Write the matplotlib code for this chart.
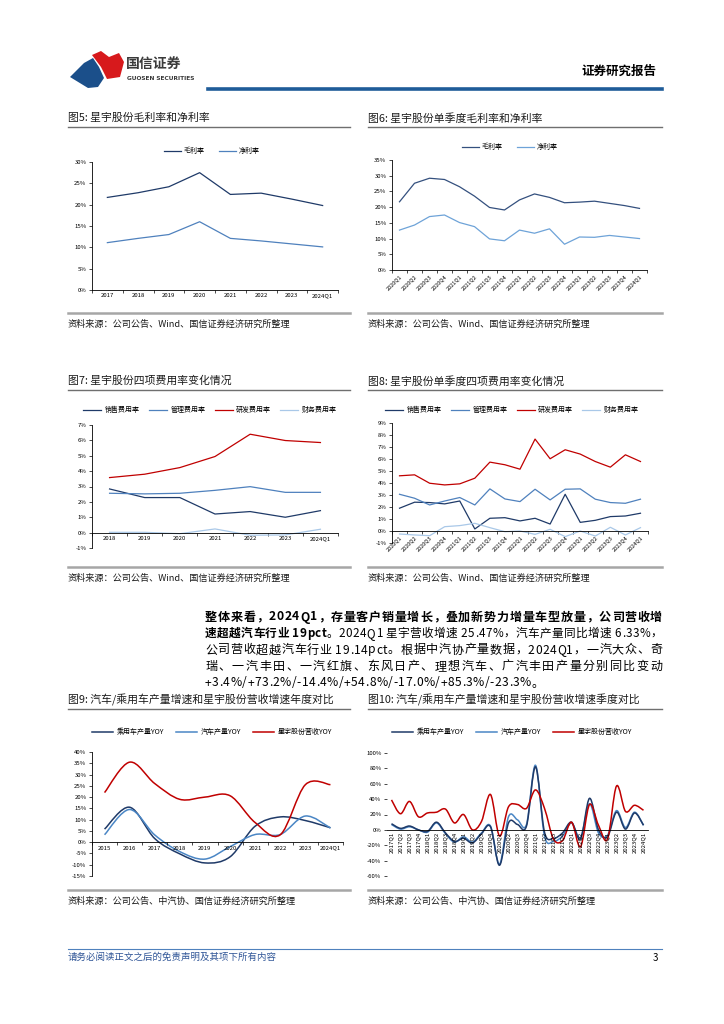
import numpy as np
import matplotlib
matplotlib.use('Agg')
import matplotlib.pyplot as plt
from matplotlib.lines import Line2D
from matplotlib.patches import Polygon, PathPatch
from matplotlib.path import Path
from matplotlib.ticker import FuncFormatter
from matplotlib.font_manager import FontProperties

plt.rcParams['font.family'] = ['Noto Sans CJK SC', 'DejaVu Sans']
plt.rcParams['axes.unicode_minus'] = False

# ---------------- data ----------------
years5 = ['2017', '2018', '2019', '2020', '2021', '2022', '2023', '2024Q1']
gross5 = [21.7, 22.8, 24.2, 27.5, 22.4, 22.7, 21.3, 19.8]
net5 = [11.1, 12.1, 13.0, 16.0, 12.1, 11.5, 10.8, 10.1]

quarters6 = ['2020Q1', '2020Q2', '2020Q3', '2020Q4', '2021Q1', '2021Q2', '2021Q3', '2021Q4',
             '2022Q1', '2022Q2', '2022Q3', '2022Q4', '2023Q1', '2023Q2', '2023Q3', '2023Q4', '2024Q1']
gross6 = [21.7, 27.6, 29.2, 28.8, 26.5, 23.5, 19.9, 19.1, 22.3, 24.2, 23.1, 21.4, 21.6, 21.9, 21.2, 20.5, 19.6]
net6 = [12.7, 14.3, 17.0, 17.5, 15.1, 13.8, 9.9, 9.3, 12.7, 11.7, 13.1, 8.2, 10.5, 10.4, 11.0, 10.5, 10.0]

years7 = ['2018', '2019', '2020', '2021', '2022', '2023', '2024Q1']
sales7 = [2.84, 2.28, 2.28, 1.21, 1.37, 1.00, 1.43]
admin7 = [2.56, 2.52, 2.56, 2.75, 2.99, 2.62, 2.62]
rnd7 = [3.58, 3.80, 4.23, 4.95, 6.40, 5.99, 5.86]
fin7 = [0.02, 0.02, -0.07, 0.24, -0.17, -0.15, 0.22]

sales8 = [1.90, 2.40, 2.37, 2.26, 2.50, 0.17, 1.06, 1.11, 0.84, 1.06, 0.58, 3.06, 0.72, 0.89, 1.20, 1.25, 1.48]
admin8 = [3.06, 2.73, 2.17, 2.50, 2.79, 2.17, 3.51, 2.67, 2.45, 3.48, 2.59, 3.48, 3.51, 2.65, 2.37, 2.31, 2.65]
rnd8 = [4.60, 4.68, 3.98, 3.84, 3.93, 4.40, 5.74, 5.52, 5.15, 7.66, 6.02, 6.77, 6.41, 5.79, 5.32, 6.35, 5.79]
fin8 = [-0.25, -0.33, -0.39, 0.36, 0.45, 0.64, 0.28, -0.06, 0.0, -0.28, 0.14, -0.47, 0.0, -0.42, 0.31, -0.33, 0.28]

years9 = ['2015', '2016', '2017', '2018', '2019', '2020', '2021', '2022', '2023', '2024Q1']
pv9 = [5.8, 15.5, 1.6, -5.2, -9.2, -6.5, 7.1, 11.2, 9.6, 6.4]
auto9 = [3.3, 14.5, 3.2, -4.2, -7.5, -2.0, 3.4, 3.4, 11.6, 6.3]
xy9 = [22.0, 35.5, 26.0, 19.0, 20.0, 20.6, 8.7, 3.3, 25.5, 25.5]

quarters10 = ['2017Q1', '2017Q2', '2017Q3', '2017Q4', '2018Q1', '2018Q2', '2018Q3', '2018Q4',
              '2019Q1', '2019Q2', '2019Q3', '2019Q4', '2020Q1', '2020Q2', '2020Q3', '2020Q4',
              '2021Q1', '2021Q2', '2021Q3', '2021Q4', '2022Q1', '2022Q2', '2022Q3', '2022Q4',
              '2023Q1', '2023Q2', '2023Q3', '2023Q4', '2024Q1']
pv10 = [8, 2, 5, 0, -2, 10, -4, -15, -11, -17, -5, 4, -46, 9, 7, 5, 82, -3, -11, -4, 10, -12, 41, 0, -9, 23, 1, 22, 6]
auto10 = [7, 1, 4, 0, -3, 9, -5, -16, -9, -16, -4, 5, -45, 17, 13, 7, 84, -8, -15, -8, 9, -10, 34, -4, -7, 25, 3, 23, 6]
xy10 = [39, 21, 37, 17, 22, 23, 27, 9, 20, 0, 11, 46, -8, 30, 33, 28, 52, 28, -12, -14, 10, -22, 33, 6, -12, 57, 24, 32, 25.5]

# ---------------- layout helpers ----------------
W, H = 724, 1024
fig = plt.figure(figsize=(W / 100, H / 100), dpi=100)
fig.patch.set_facecolor('white')

NAVY = '#1f3a68'
MID = '#4f81bd'
LIGHT = '#a9c8e8'
RED = '#c00000'


def px_axes(l, t, r, b):
    return fig.add_axes([l / W, 1 - b / H, (r - l) / W, (b - t) / H])


def ftext(x, y, s, **kw):
    return fig.text(x / W, 1 - y / H, s, **kw)


def hline(x0, x1, y, color, lw):
    fig.add_artist(Line2D([x0 / W, x1 / W], [1 - y / H, 1 - y / H],
                          transform=fig.transFigure, color=color, lw=lw))


def pct(v, p):
    return f'{v:.0f}%'


def style(ax, ylo, yhi, step, labels, rot=0, zero_axis=False, left_spine=True, lsize=4.3):
    n = len(labels)
    for s in ['top', 'right']:
        ax.spines[s].set_visible(False)
    for s in ['left', 'bottom']:
        ax.spines[s].set_linewidth(0.6)
        ax.spines[s].set_color('black')
    if not left_spine:
        ax.spines['left'].set_visible(False)
    if zero_axis:
        ax.spines['bottom'].set_position(('data', 0))
    ax.set_xlim(-0.5, n - 0.5)
    ax.set_ylim(ylo, yhi)
    ax.set_yticks(np.arange(ylo, yhi + 0.001, step))
    ax.yaxis.set_major_formatter(FuncFormatter(pct))
    ax.set_xticks(np.arange(n))
    ax.set_xticks(np.arange(n + 1) - 0.5, minor=True)
    ax.tick_params(axis='x', which='major', length=0, labelsize=lsize, pad=2.5)
    ax.tick_params(axis='x', which='minor', length=2, width=0.5, direction='out')
    ax.tick_params(axis='y', length=2, width=0.5, labelsize=4.3, pad=2)
    if rot == 45:
        ax.set_xticklabels(labels, rotation=45, ha='right', rotation_mode='anchor')
    elif rot == 90:
        ax.set_xticklabels(labels, rotation=90, ha='center', va='top')
    else:
        ax.set_xticklabels(labels)
    ax.patch.set_alpha(0)


def smooth_path(xs, ys):
    # Excel-style smoothed line through the data points
    pts = np.column_stack([xs, ys]).astype(float)
    n = len(pts)
    verts = [pts[0]]
    codes = [Path.MOVETO]
    for i in range(n - 1):
        p0 = pts[i - 1] if i > 0 else pts[i]
        p1 = pts[i]
        p2 = pts[i + 1]
        p3 = pts[i + 2] if i + 2 < n else pts[i + 1]
        verts += [p1 + (p2 - p0) / 6, p2 - (p3 - p1) / 6, p2]
        codes += [Path.CURVE4] * 3
    return Path(verts, codes)


def legend(ax, handles, names, cx, cy, colsp=2.0, hl=2.4):
    ax.legend(handles, names, loc='center', bbox_to_anchor=(cx / W, 1 - cy / H),
              bbox_transform=fig.transFigure, ncol=len(names), frameon=False,
              fontsize=5, handlelength=hl, handletextpad=0.5, columnspacing=colsp)


def block_title(x0, x1, y, s):
    ftext(x0, y, s, fontsize=7.8, va='center', ha='left', color='#1a1a1a')
    hline(x0, x1, y + 9, '#6f6f6f', 1.0)


def block_source(x0, x1, y, s):
    hline(x0, x1, y - 11, '#a6a6a6', 1.8)
    ftext(x0, y, s, fontsize=6.6, va='center', ha='left', color='#1a1a1a')


# ---------------- header ----------------
fig.add_artist(Polygon([(a / W, 1 - b / H) for a, b in
                        [(70, 77), (84, 63), (93, 58), (99, 67), (104, 78), (98, 87), (88, 88)]],
                       closed=True, transform=fig.transFigure, color='#1b4f8a', lw=0))
fig.add_artist(Polygon([(a / W, 1 - b / H) for a, b in
                        [(92, 55), (101, 51), (109, 57), (119, 53), (124, 62), (120, 77), (107, 79), (101, 67)]],
                       closed=True, transform=fig.transFigure, color='#d7191c', lw=0))
ftext(126, 64, '国信证券', fontsize=10, fontweight='bold', color='#3a3a3a', va='center')
ftext(127, 78, 'GUOSEN SECURITIES', fontsize=4.2, fontweight='bold', color='#3a3a3a',
      va='center', family='DejaVu Sans')
ftext(656, 71, '证券研究报告', fontsize=9, fontweight='bold', ha='right', va='center')
hline(208, 662, 89, '#1f5c99', 2.6)

# ---------------- Fig5 ----------------
block_title(68, 350, 118, '图5: 星宇股份毛利率和净利率')
ax = px_axes(92, 162, 338, 290)
style(ax, 0, 30, 5, years5)
x = np.arange(len(years5))
h1, = ax.plot(x, gross5, color=NAVY, lw=0.9)
h2, = ax.plot(x, net5, color=MID, lw=0.9)
legend(ax, [h1, h2], ['毛利率', '净利率'], 212, 151)
block_source(68, 350, 324, '资料来源：公司公告、Wind、国信证券经济研究所整理')

# ---------------- Fig6 ----------------
block_title(368, 662, 118, '图6: 星宇股份单季度毛利率和净利率')
ax = px_axes(392, 160, 647, 270)
style(ax, 0, 35, 5, quarters6, rot=45, lsize=4.0)
x = np.arange(len(quarters6))
h1, = ax.plot(x, gross6, color='#34507e', lw=0.9)
h2, = ax.plot(x, net6, color='#6ea3d8', lw=0.9)
legend(ax, [h1, h2], ['毛利率', '净利率'], 510, 147)
block_source(368, 662, 324, '资料来源：公司公告、Wind、国信证券经济研究所整理')

# ---------------- Fig7 ----------------
block_title(68, 350, 381, '图7: 星宇股份四项费用率变化情况')
ax = px_axes(92, 425, 338, 548)
style(ax, -1, 7, 1, years7, zero_axis=True)
x = np.arange(len(years7))
hs = [ax.plot(x, v, color=c, lw=0.9)[0] for v, c in
      [(sales7, NAVY), (admin7, MID), (rnd7, RED), (fin7, LIGHT)]]
legend(ax, hs, ['销售费用率', '管理费用率', '研发费用率', '财务费用率'], 210, 410, colsp=1.3, hl=2.6)
block_source(68, 350, 578, '资料来源：公司公告、Wind、国信证券经济研究所整理')

# ---------------- Fig8 ----------------
block_title(368, 662, 381, '图8: 星宇股份单季度四项费用率变化情况')
ax = px_axes(392, 423, 648, 543)
style(ax, -1, 9, 1, quarters6, rot=45, zero_axis=True, lsize=4.0)
x = np.arange(len(quarters6))
hs = [ax.plot(x, v, color=c, lw=0.9)[0] for v, c in
      [(sales8, NAVY), (admin8, MID), (rnd8, RED), (fin8, LIGHT)]]
legend(ax, hs, ['销售费用率', '管理费用率', '研发费用率', '财务费用率'], 512, 410, colsp=1.3, hl=2.6)
block_source(368, 662, 578, '资料来源：公司公告、Wind、国信证券经济研究所整理')

# ---------------- paragraph ----------------
para = [
    [('整体来看，2024Q1，存量客户销量增长，叠加新势力增量车型放量，公司营收增', True)],
    [('速超越汽车行业 19pct', True), ('。2024Q1 星宇营收增速 25.47%，汽车产量同比增速 6.33%，', False)],
    [('公司营收超越汽车行业 19.14pct。根据中汽协产量数据，2024Q1，一汽大众、奇', False)],
    [('瑞、一汽丰田、一汽红旗、东风日产、理想汽车、广汽丰田产量分别同比变动', False)],
    [('+3.4%/+73.2%/-14.4%/+54.8%/-17.0%/+85.3%/-23.3%。', False)],
]
renderer = fig.canvas.get_renderer()
fam = ['Noto Sans CJK SC', 'DejaVu Sans']
PSIZE = 8.7


def measure(chars, size):
    ws = []
    for c, b in chars:
        fp = FontProperties(family=fam, size=size, weight='bold' if b else 'normal')
        w, _, _ = renderer.get_text_width_height_descent(c, fp, ismath=False)
        ws.append(w)
    return ws


def draw_line(segs, x0, x1, y, justify):
    chars = [(c, b) for s, b in segs for c in s]
    size = PSIZE
    ws = measure(chars, size)
    need = sum(ws) + 0.4 * (len(chars) - 1)
    if need > x1 - x0:
        size = size * (x1 - x0) / need
        ws = measure(chars, size)
    gap = (x1 - x0 - sum(ws)) / (len(chars) - 1) if justify else 0.5
    xc = x0
    for (c, b), w in zip(chars, ws):
        ftext(xc, y, c, fontsize=size, fontweight='bold' if b else 'normal',
              va='center', ha='left', color='black')
        xc += w + gap


for i, segs in enumerate(para):
    draw_line(segs, 205, 662, 617 + 16.5 * i, i < len(para) - 1)

# ---------------- Fig9 ----------------
block_title(68, 350, 700, '图9: 汽车/乘用车产量增速和星宇股份营收增速年度对比')
ax = px_axes(92, 752, 343, 876)
style(ax, -15, 40, 5, years9, zero_axis=True)
x = np.arange(len(years9))
for v, c in [(pv9, NAVY), (auto9, '#4a86c5'), (xy9, RED)]:
    ax.add_patch(PathPatch(smooth_path(x, v), fill=False, edgecolor=c, lw=1.1))
hs = [Line2D([], [], color=c, lw=1.1) for c in [NAVY, '#4a86c5', RED]]
legend(ax, hs, ['乘用车产量YOY', '汽车产量YOY', '星宇股份营收YOY'], 212, 732, colsp=1.8, hl=3.0)
block_source(68, 350, 901, '资料来源：公司公告、中汽协、国信证券经济研究所整理')

# ---------------- Fig10 ----------------
block_title(368, 662, 700, '图10: 汽车/乘用车产量增速和星宇股份营收增速季度对比')
ax = px_axes(387, 753, 648, 876)
style(ax, -60, 100, 20, quarters10, rot=90, zero_axis=True, left_spine=False, lsize=4.3)
ax.tick_params(axis='x', which='minor', length=0)
ax.tick_params(axis='x', which='major', pad=1.5)
x = np.arange(len(quarters10))
for v, c in [(auto10, '#4a86c5'), (pv10, NAVY), (xy10, RED)]:
    ax.add_patch(PathPatch(smooth_path(x, v), fill=False, edgecolor=c, lw=1.1))
hs = [Line2D([], [], color=c, lw=1.1) for c in [NAVY, '#4a86c5', RED]]
legend(ax, hs, ['乘用车产量YOY', '汽车产量YOY', '星宇股份营收YOY'], 512, 732, colsp=1.8, hl=3.0)
block_source(368, 662, 901, '资料来源：公司公告、中汽协、国信证券经济研究所整理')

# ---------------- footer ----------------
hline(68, 662, 949, '#4f81bd', 0.8)
ftext(68, 957, '请务必阅读正文之后的免责声明及其项下所有内容', fontsize=6.8, color='#2f5597',
      va='center', style='italic')
ftext(658, 958, '3', fontsize=7, ha='right', va='center')

fig.savefig('out.png', dpi=100)
